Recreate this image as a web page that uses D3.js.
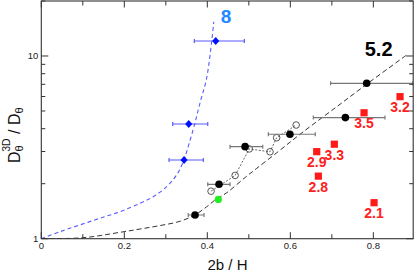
<!DOCTYPE html>
<html>
<head>
<meta charset="utf-8">
<script src="https://cdn.jsdelivr.net/npm/d3@7"></script>
<style>
  html, body { margin: 0; padding: 0; background: #fff; }
  svg { display: block; font-family: "Liberation Sans", Arial, Helvetica, sans-serif; }
</style>
</head>
<body>
<div id="chart"></div>
<script>
// fitted curves: [2b/H, ratio]
const blueCurve = [
  [0, 1], [0.045, 1.092], [0.093, 1.189], [0.141, 1.294], [0.19, 1.406],
  [0.238, 1.563], [0.27, 1.698], [0.302, 1.928], [0.326, 2.234], [0.342, 2.636],
  [0.355, 3.25], [0.37, 4.285], [0.383, 5.6], [0.398, 7.5], [0.4106, 12.08],
  [0.4155, 15.4]
];
const blackCurve = [
  [0, 1], [0.1, 1.012], [0.19, 1.084], [0.238, 1.13], [0.286, 1.18], [0.334, 1.245],
  [0.37, 1.349], [0.3985, 1.496], [0.4186, 1.629], [0.447, 1.786], [0.491, 2.163],
  [0.519, 2.427], [0.567, 2.951], [0.603, 3.428], [0.631, 3.846], [0.712, 5.28],
  [0.792, 7.23], [0.88, 10.12]
];

// measurements
const blueX = [0.4202, 0.3552, 0.3439];
const blueY = [12.08, 4.245, 2.697];
const blueXlo = [0.3687, 0.3166, 0.3077];
const blueXhi = [0.4892, 0.401, 0.3904];

const blackX = [0.784, 0.7326, 0.599, 0.491, 0.4282, 0.3704];
const blackY = [7.09, 4.60, 3.73, 3.19, 1.985, 1.348];
const blackXlo = [0.697, 0.6554, 0.547, 0.4547, 0.401, 0.354];
const blackXhi = [0.895, 0.828, 0.66, 0.5335, 0.4547, 0.392];

const openX = [0.409, 0.467, 0.501, 0.551, 0.567, 0.614];
const openY = [1.82, 2.22, 3.10, 2.99, 3.57, 4.19];

const greenX = [0.4265];
const greenY = [1.64];

const redX = [0.8643, 0.7776, 0.706, 0.6636, 0.6675, 0.8017];
const redY = [5.99, 4.89, 3.29, 2.995, 2.20, 1.574];
const redLabels = ['3.2', '3.5', '3.3', '2.9', '2.8', '2.1'];

const curveLabels = ['8', '5.2'];
const xMajor = [0, 0.2, 0.4, 0.6, 0.8];
const xMinor = [0.1, 0.3, 0.5, 0.7];
const yMajor = [1, 10];
const yMinor = [2, 3, 4, 5, 6, 7, 8, 9, 20];

const width = 416, height = 276;
const plotLeft = 41.3, plotRight = 413.2, plotTop = 1, plotBottom = 238.7;

const svg = d3.select('#chart').append('svg')
  .attr('width', width)
  .attr('height', height);

const x = d3.scaleLinear().domain([0, 0.896]).range([plotLeft, plotRight]);
const y = d3.scaleLog().domain([1, 20]).range([plotBottom, plotTop]);

// clip for data
svg.append('clipPath').attr('id', 'plot')
  .append('rect')
  .attr('x', plotLeft).attr('y', plotTop)
  .attr('width', plotRight - plotLeft).attr('height', plotBottom - plotTop);

const g = svg.append('g').attr('clip-path', 'url(#plot)');

const line = d3.line()
  .x(d => x(d[0]))
  .y(d => y(d[1]))
  .curve(d3.curveCatmullRom.alpha(0.5));

g.append('path')
  .attr('d', line(blueCurve))
  .attr('fill', 'none')
  .attr('stroke', '#5a5aff')
  .attr('stroke-width', 1.1)
  .attr('stroke-dasharray', '4,3');

g.append('path')
  .attr('d', line(blackCurve))
  .attr('fill', 'none')
  .attr('stroke', '#333')
  .attr('stroke-width', 1)
  .attr('stroke-dasharray', '5,3');

// open circles joined by a dotted line
const openPts = openX.map((v, i) => [v, openY[i]]);
g.append('path')
  .attr('d', d3.line().x(d => x(d[0])).y(d => y(d[1]))(openPts))
  .attr('fill', 'none')
  .attr('stroke', '#555')
  .attr('stroke-width', 0.9)
  .attr('stroke-dasharray', '2,1.6');

g.selectAll('.open')
  .data(openPts)
  .join('circle')
  .attr('cx', d => x(d[0]))
  .attr('cy', d => y(d[1]))
  .attr('r', 3.3)
  .attr('fill', 'none')
  .attr('stroke', '#444')
  .attr('stroke-width', 0.9);

// horizontal error bars
function errorBars(xs, ys, lo, hi, color, cap) {
  xs.forEach((v, i) => {
    const yy = y(ys[i]);
    g.append('line')
      .attr('x1', x(lo[i])).attr('x2', x(hi[i]))
      .attr('y1', yy).attr('y2', yy)
      .attr('stroke', color).attr('stroke-width', 1.2);
    [lo[i], hi[i]].forEach(e => {
      g.append('line')
        .attr('x1', x(e)).attr('x2', x(e))
        .attr('y1', yy - cap).attr('y2', yy + cap)
        .attr('stroke', color).attr('stroke-width', 1.2);
    });
  });
}

errorBars(blackX, blackY, blackXlo, blackXhi, '#777', 2);
errorBars(blueX, blueY, blueXlo, blueXhi, '#5a5aff', 2);

// blue diamonds
blueX.forEach((v, i) => {
  g.append('path')
    .attr('transform', `translate(${x(v)},${y(blueY[i])})`)
    .attr('d', 'M0,-4L3.6,0L0,4L-3.6,0Z')
    .attr('fill', '#0010ff');
});

// black dots
g.selectAll('.dot')
  .data(blackX)
  .join('circle')
  .attr('cx', d => x(d))
  .attr('cy', (d, i) => y(blackY[i]))
  .attr('r', 3.8)
  .attr('fill', '#000');

// green dot
g.selectAll('.green')
  .data(greenX)
  .join('circle')
  .attr('cx', d => x(d))
  .attr('cy', (d, i) => y(greenY[i]))
  .attr('r', 3.6)
  .attr('fill', '#22ee22');

// red squares and their labels
redX.forEach((v, i) => {
  const cx = x(v), cy = y(redY[i]);
  svg.append('rect')
    .attr('x', cx - 3.6).attr('y', cy - 3.6)
    .attr('width', 7.2).attr('height', 7.2)
    .attr('fill', '#ff1a1a');
  svg.append('text')
    .attr('x', cx)
    .attr('y', cy + 15.5)
    .attr('text-anchor', 'middle')
    .attr('font-size', 14)
    .attr('font-weight', 'bold')
    .attr('fill', '#ff2020')
    .text(redLabels[i]);
});

// curve labels
const blueEnd = blueCurve[blueCurve.length - 1];
svg.append('text')
  .attr('x', x(blueEnd[0]) + 7)
  .attr('y', y(blueEnd[1]) + 1.6)
  .attr('font-size', 19)
  .attr('font-weight', 'bold')
  .attr('fill', '#2288ff')
  .text(curveLabels[0]);

const blackEnd = blackCurve[blackCurve.length - 1];
svg.append('text')
  .attr('x', x(blackEnd[0]) - 14)
  .attr('y', y(blackEnd[1]) + 1)
  .attr('text-anchor', 'end')
  .attr('font-size', 20)
  .attr('font-weight', 'bold')
  .attr('fill', '#000')
  .text(curveLabels[1]);

// frame and inward ticks
const axisColor = '#333';
svg.append('rect')
  .attr('x', plotLeft).attr('y', plotTop)
  .attr('width', plotRight - plotLeft).attr('height', plotBottom - plotTop)
  .attr('fill', 'none')
  .attr('stroke', axisColor)
  .attr('stroke-width', 1.1);

const ticks = svg.append('g').attr('stroke', axisColor).attr('stroke-width', 1);

xMajor.concat(xMinor).forEach(t => {
  const len = xMajor.includes(t) ? 6.5 : 4.5;
  ticks.append('line').attr('x1', x(t)).attr('x2', x(t)).attr('y1', plotBottom).attr('y2', plotBottom - len);
  ticks.append('line').attr('x1', x(t)).attr('x2', x(t)).attr('y1', plotTop).attr('y2', plotTop + len);
});
yMajor.concat(yMinor).forEach(t => {
  const len = yMajor.includes(t) ? 7 : 4;
  ticks.append('line').attr('x1', plotLeft).attr('x2', plotLeft + len).attr('y1', y(t)).attr('y2', y(t));
  ticks.append('line').attr('x1', plotRight).attr('x2', plotRight - len).attr('y1', y(t)).attr('y2', y(t));
});

// tick labels
svg.selectAll('.xl')
  .data(xMajor)
  .join('text')
  .attr('x', d => x(d))
  .attr('y', plotBottom + 10.5)
  .attr('text-anchor', 'middle')
  .attr('font-size', 9.5)
  .attr('fill', '#222')
  .text(d => d3.format('')(d));

svg.selectAll('.yl')
  .data(yMajor)
  .join('text')
  .attr('x', plotLeft - 3)
  .attr('y', d => y(d) + 3.3)
  .attr('text-anchor', 'end')
  .attr('font-size', 9.5)
  .attr('fill', '#222')
  .text(d => d);

// axis titles
svg.append('text')
  .attr('x', 227.5)
  .attr('y', 269.5)
  .attr('text-anchor', 'middle')
  .attr('font-size', 15)
  .attr('fill', '#111')
  .text('2b / H');

const yTitle = svg.append('text')
  .attr('transform', 'translate(20,163) rotate(-90)')
  .attr('font-size', 16)
  .attr('fill', '#111');
yTitle.append('tspan').text('D');
yTitle.append('tspan').attr('font-size', 11).attr('dy', 2.5).text('θ');
yTitle.append('tspan').attr('font-size', 10.5).attr('dx', -6.5).attr('dy', -13).text('3D');
yTitle.append('tspan').attr('font-size', 16).attr('dy', 10.5).text(' / D');
yTitle.append('tspan').attr('font-size', 11).attr('dy', 2.5).text('θ');
</script>
</body>
</html>
